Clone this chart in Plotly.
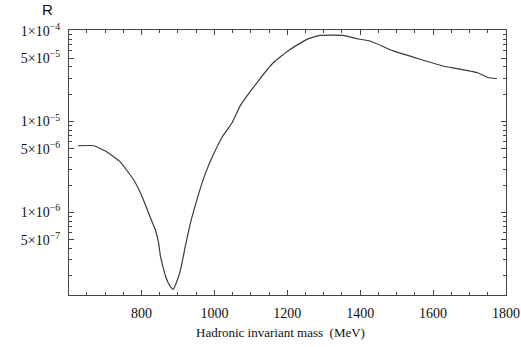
import plotly.graph_objects as go
import numpy as np

mass = [625, 669, 701, 742, 779, 802, 825, 838, 847, 852, 866, 878, 887, 896, 907, 920, 934,
        957, 975, 994, 1021, 1048, 1071, 1117, 1162, 1208, 1254, 1290, 1354, 1391,
        1427, 1491, 1564, 1633, 1665, 1720, 1751, 1775]
ratio = [5.42e-6, 5.42e-6, 4.73e-6, 3.58e-6, 2.26e-6, 1.48e-6, 8.6e-7, 6.4e-7, 4.57e-7,
         3.27e-7, 1.97e-7, 1.55e-7, 1.42e-7, 1.7e-7, 2.33e-7, 4.2e-7, 7.57e-7, 1.61e-6,
         2.67e-6, 4.07e-6, 6.73e-6, 9.64e-6, 1.5e-5, 2.69e-5, 4.47e-5, 6.25e-5, 8.05e-5,
         8.91e-5, 8.91e-5, 8.17e-5, 7.71e-5, 6.0e-5, 4.86e-5, 4.04e-5, 3.84e-5, 3.47e-5,
         3.06e-5, 2.98e-5]

x_ticks = [800, 1000, 1200, 1400, 1600, 1800]
x_minor = [650, 700, 750, 850, 900, 950, 1050, 1100, 1150, 1250, 1300, 1350,
           1450, 1500, 1550, 1650, 1700, 1750]
y_ticks = [1e-4, 5e-5, 1e-5, 5e-6, 1e-6, 5e-7]
y_ticktext = ["1×10<sup>−4</sup>", "5×10<sup>−5</sup>", "1×10<sup>−5</sup>",
              "5×10<sup>−6</sup>", "1×10<sup>−6</sup>", "5×10<sup>−7</sup>"]
y_minor = [m * 10.0 ** e for e in (-7, -6, -5) for m in (2, 3, 4, 6, 7, 8, 9)]

fig = go.Figure()
fig.add_trace(go.Scatter(x=mass, y=ratio, mode="lines",
                         line=dict(color="#3a3a3a", width=1.2, shape="spline", smoothing=0.4),
                         showlegend=False, hoverinfo="skip"))

axis_common = dict(showline=True, linecolor="#444444", linewidth=1, mirror="ticks",
                   ticks="inside", tickcolor="#444444", showgrid=False, zeroline=False,
                   automargin=False,
                   tickfont=dict(family="Liberation Serif", size=14, color="#111111"))

fig.update_xaxes(range=[601, 1800], tickmode="array", tickvals=x_ticks, ticklen=5,
                 ticklabelstandoff=5,
                 minor=dict(tickmode="array", tickvals=x_minor, ticks="inside",
                            ticklen=3, tickcolor="#444444"),
                 **axis_common)
fig.update_yaxes(type="log", range=[np.log10(1.23e-7), np.log10(1.02e-4)],
                 tickmode="array", tickvals=y_ticks, ticktext=y_ticktext, ticklen=5,
                 ticklabelstandoff=5,
                 minor=dict(tickmode="array", tickvals=y_minor, ticks="inside",
                            ticklen=3, tickcolor="#444444"),
                 **axis_common)

fig.update_layout(
    width=521, height=347,
    margin=dict(l=69, r=15, t=30, b=52),
    paper_bgcolor="white", plot_bgcolor="white",
    annotations=[
        dict(text="R", x=47, y=9, xref="paper", yref="paper", showarrow=False,
             font=dict(family="Liberation Sans", size=15, color="#111111")),
        dict(text="Hadronic invariant mass  (MeV)", x=280, y=332,
             xref="paper", yref="paper", showarrow=False,
             font=dict(family="Liberation Serif", size=13, color="#111111")),
    ],
)
pw, ph = 521 - 69 - 15, 347 - 30 - 52
for a in fig.layout.annotations:
    px, py = a.x, a.y
    a.x = (px - 69) / pw
    a.y = 1 - (py - 30) / ph
    a.xanchor = "center"
    a.yanchor = "middle"

fig.write_html("out.html", config={"displayModeBar": False},
               post_script="document.body.style.margin='0';document.body.style.overflow='hidden';")
